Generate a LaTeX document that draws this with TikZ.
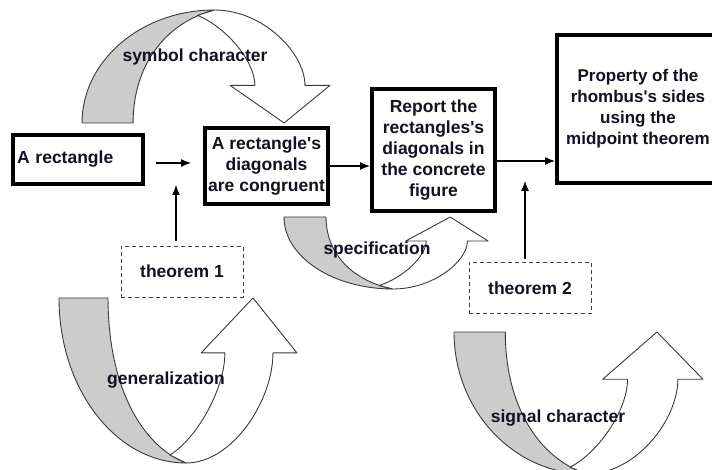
\documentclass[tikz,border=0pt]{standalone}
\usepackage{fontspec}
\setmainfont{Liberation Sans}
\usetikzlibrary{arrows.meta}
\definecolor{ribbongray}{HTML}{CCCCCC}
\definecolor{ribbonline}{HTML}{3A3A3A}
\definecolor{inkc}{HTML}{111122}
\newcommand\apos{\textquotesingle}
% One curved ribbon arrow in unit coordinates: the shaded back band
% falls from the top left, the white front band rises to the head.
\newcommand\ribbonarrow{%
  \filldraw[band]
    (0,0) .. controls (0,0.552) and (0.239,1) .. (0.534,1)
    .. controls (0.34,0.89) and (0.206,0.52) .. (0.206,0) -- cycle;
  \filldraw[face]
    (0.697,0.333) -- (0.597,0.333) -- (0.815,0) -- (1,0.333) -- (0.899,0.333)
    .. controls (0.899,0.62) and (0.73,1) .. (0.534,1)
    -- (0.466,0.952)
    .. controls (0.58,0.85) and (0.697,0.55) .. (0.697,0.333) -- cycle;
}
\begin{document}
\begin{tikzpicture}[x=1pt,y=-1pt,
  txt/.style={font=\fontsize{17.5}{21}\selectfont\bfseries, text=inkc},
  bigbox/.style={txt, draw=black, fill=white, line width=4pt, inner sep=2pt, align=center},
  thmbox/.style={txt, draw=black!75, line width=0.9pt, dash pattern=on 4pt off 3pt,
    minimum width=122pt, minimum height=51pt},
  link/.style={draw=black, line width=1.2pt, -{Latex[length=10pt,width=8pt]}},
  band/.style={fill=ribbongray, draw=ribbonline, line width=0.9pt, line join=round},
  face/.style={fill=white, draw=ribbonline, line width=0.9pt, line join=round},
]
\useasboundingbox (0,0) rectangle (712,470);
\clip (0,0) rectangle (712,470);

% curved ribbon arrows
\begin{scope}[shift={(82,123)}, xscale=248, yscale=-113]\ribbonarrow\end{scope}
\begin{scope}[shift={(284,217)}, xscale=204, yscale=72]\ribbonarrow\end{scope}
\begin{scope}[shift={(59,298)}, xscale=238, yscale=165]\ribbonarrow\end{scope}
\begin{scope}[shift={(454,332)}, xscale=249, yscale=142]\ribbonarrow\end{scope}

% main boxes
\node[bigbox, minimum width=130pt, minimum height=49pt, text width=122pt,
      inner xsep=4pt, align=left] (b1) at (78,159.5) {A rectangle};
\node[bigbox, minimum width=123pt, minimum height=76pt] (b2) at (266.5,166)
  {A rectangle\apos s\\diagonals\\are congruent};
\node[bigbox, minimum width=123pt, minimum height=122pt] (b3) at (433.5,150)
  {Report the\\rectangles\apos s\\diagonals in\\the concrete\\figure};
\node[bigbox, minimum width=162pt, minimum height=148pt,
      font=\fontsize{17}{21}\selectfont\bfseries] (b4) at (638,109)
  {Property of the\\rhombus\apos s sides\\using the\\midpoint theorem};

% theorem boxes
\node[thmbox] (t1) at (182,271.5) {theorem 1};
\node[thmbox] (t2) at (530,288) {theorem 2};

% connectors
\coordinate (t1tip) at (176,185);
\coordinate (t2tip) at (525,181);
\draw[link, shorten <=11pt, shorten >=12pt]
  ([yshift=-3.5pt]b1.east) -- ([yshift=-3.5pt]b1.east -| b2.west);
\draw[link] (b2.east) -- (b2.east -| b3.west);
\draw[link] ([yshift=-11pt]b3.east) -- ([yshift=-11pt]b3.east -| b4.west);
\draw[link, shorten <=5pt] (t1.north -| t1tip) -- (t1tip);
\draw[link, shorten <=3pt] (t2.north -| t2tip) -- (t2tip);

% ribbon labels
\node[txt] (lsym) at (195,57) {symbol character};
\node[txt] (lspec) at (377,250) {specification};
\node[txt] (lgen) at (166,380) {generalization};
\node[txt] (lsig) at (558,418) {signal character};
\end{tikzpicture}
\end{document}
